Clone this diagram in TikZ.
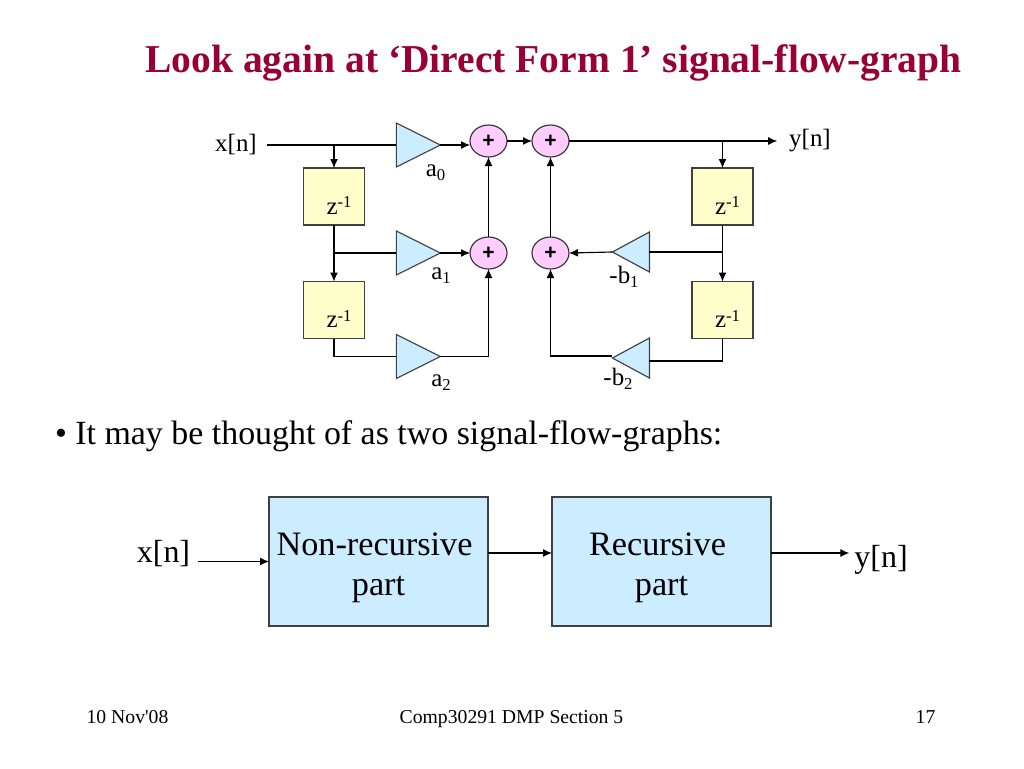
\documentclass[tikz,border=0pt]{standalone}
\usepackage{fontspec}
\setmainfont{Liberation Serif}
\setsansfont{Liberation Sans}
\newfontfamily\plainfont{Liberation Serif}
\usetikzlibrary{shapes.geometric,arrows.meta}
\definecolor{titlered}{HTML}{990033}
\definecolor{gainblue}{HTML}{CCECFF}
\definecolor{delayyellow}{HTML}{FFFFCC}
\definecolor{adderpink}{HTML}{FFCCFF}
\newcommand{\subidx}[1]{\raisebox{-0.08cm}{\fontsize{9.5pt}{10pt}\selectfont #1}}
\newcommand{\zinv}{\raisebox{-0.35cm}[0pt][0pt]{\kern0.2cm z\raisebox{0.13cm}{\fontsize{9.5pt}{10pt}\selectfont -1}}}
\tikzset{
  every node/.style={outer sep=0pt},
  flow/.style={-{Latex[length=1.8mm,width=1.6mm]}},
  flowtext/.style={inner sep=0pt, font=\fontsize{14.2pt}{17pt}\selectfont},
  bigtext/.style={font=\fontsize{18.2pt}{23.2pt}\selectfont},
  foottext/.style={inner sep=0pt, anchor=base, font=\fontsize{11.2pt}{13pt}\selectfont},
  delaybox/.style={rectangle, draw=black!75, fill=delayyellow, minimum width=1.22cm, minimum height=1.14cm, flowtext},
  gainright/.style={isosceles triangle, isosceles triangle stretches, draw=black!75, fill=gainblue, inner sep=0pt, minimum width=0.88cm, minimum height=0.88cm},
  gainleft/.style={gainright, shape border rotate=180, minimum width=0.80cm, minimum height=0.74cm},
  adder/.style={ellipse, draw=black!80, fill=adderpink, inner sep=0pt, minimum width=0.74cm, minimum height=0.64cm, font=\fontsize{12pt}{14pt}\selectfont\sffamily\bfseries},
  partbox/.style={rectangle, draw=black!75, fill=gainblue, minimum width=4.38cm, minimum height=2.58cm, align=center, font=\fontsize{19.5pt}{23.2pt}\selectfont}
}
\begin{document}
\begin{tikzpicture}[x=0.02cm, y=-0.02cm, line width=0.65pt]
\useasboundingbox (0,0) rectangle (1024,768);

%Texts
\node (title) at (553.5,72) [anchor=base, inner sep=0pt, text=titlered, font=\fontsize{22.5pt}{26pt}\selectfont\bfseries] {Look again at ‘Direct Form 1’ signal-flow-graph};
\node (bullet) at (55,444) [anchor=base west, inner sep=0pt, font=\fontsize{19.3pt}{24pt}\selectfont] {• It may be thought of as two signal-flow-graphs:};
\node (footDate) at (127.5,723) [foottext] {\plainfont 10 Nov'08};
\node (footCourse) at (511.5,723) [foottext] {Comp30291 DMP Section 5};
\node (footPage) at (925.5,723) [foottext] {17};

%Upper blocks
\node (xIn) at (236,145) [flowtext, inner xsep=0.2cm] {x[n]};
\node (yOut) at (810,141) [flowtext, inner xsep=0.24cm] {y[n]};
\node (delayA) at (334,196.5) [delaybox] {\zinv};
\node (delayB) at (334,310) [delaybox] {\zinv};
\node (delayC) at (722.5,196.5) [delaybox] {\zinv};
\node (delayD) at (722.5,310) [delaybox] {\zinv};
\node (gainA0) at (410,145) [gainright] {};
\node (gainA1) at (410,253) [gainright] {};
\node (gainA2) at (410,356.5) [gainright] {};
\node (gainB1) at (637.5,252) [gainleft] {};
\node (gainB2) at (637.5,358) [gainleft] {};
\node (addA) at (488.5,141) [adder] {\raisebox{-0.06cm}{+}};
\node (addB) at (488.5,253) [adder] {\raisebox{-0.06cm}{+}};
\node (addC) at (550.5,141) [adder] {\raisebox{-0.06cm}{+}};
\node (addD) at (550.5,253) [adder] {\raisebox{-0.06cm}{+}};
\node (labelA0) at (435.5,176) [flowtext, anchor=base] {a\subidx{0}};
\node (labelA1) at (441,279) [flowtext, anchor=base] {a\subidx{1}};
\node (labelA2) at (441,386) [flowtext, anchor=base] {a\subidx{2}};
\node (labelB1) at (624,283) [flowtext, anchor=base] {-b\subidx{1}};
\node (labelB2) at (618,385) [flowtext, anchor=base] {-b\subidx{2}};

%Upper links
\coordinate (xTap) at (delayA.north |- xIn.east);
\coordinate (yTap) at (delayC.north |- yOut.west);
\coordinate (aTap) at (delayA.south |- gainA1.lower side);
\coordinate (bTap) at (delayC.south |- gainB1.lower side);
\draw (xIn.east) -- (gainA0.lower side);
\draw [flow] (xTap) -- (delayA.north);
\draw [flow] (delayA.south) -- (delayB.north);
\draw (aTap) -- (gainA1.lower side);
\draw (delayB.south) |- (gainA2.lower side);
\draw [flow] (gainA0.apex) -- (gainA0.apex -| addA.west);
\draw [flow] (gainA1.apex) -- (addB.west);
\draw [flow] (gainA2.apex) -| (addB.south);
\draw [flow] (addB.north) -- (addA.south);
\draw [flow] (addA.east) -- (addC.west);
\draw [flow] (addC.east) -- (yOut.west);
\draw [flow] (yTap) -- (delayC.north);
\draw [flow] (delayC.south) -- (delayD.north);
\draw (bTap) -- (gainB1.lower side);
\draw [flow] (gainB1.apex) -- (addD.east);
\draw (delayD.south) |- ([yshift=-0.06cm]gainB2.lower side);
\draw [flow] ([yshift=0.04cm]gainB2.apex) -| (addD.south);
\draw [flow] (addD.north) -- (addC.south);

%Lower blocks
\node (xOuter) at (163.5,553.5) [inner sep=0pt, inner xsep=0.16cm, bigtext] {x[n]};
\node (yOuter) at (881,559.5) [inner sep=0pt, inner xsep=0.1cm, bigtext] {y[n]};
\node (partNon) at (378.5,561.5) [partbox] {\rule{0pt}{0.71cm}Non-recursive\kern0.16cm\\part};
\node (partRec) at (661.5,561.5) [partbox] {\rule{0pt}{0.71cm}Recursive\kern0.16cm\\part};

%Lower links
\draw [flow] (xOuter.east |- partNon.west) -- (partNon.west);
\draw [flow] ([yshift=0.17cm]partNon.east) -- ([yshift=0.17cm]partRec.west);
\draw [flow] ([yshift=0.17cm]partRec.east) -- ([yshift=0.17cm]partRec.east -| yOuter.west);

\end{tikzpicture}
\end{document}
